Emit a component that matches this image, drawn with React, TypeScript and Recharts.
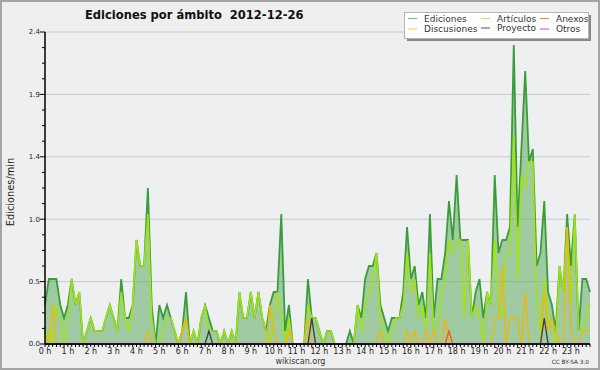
import React from "react";
import { ComposedChart, Area, Line, XAxis, YAxis, CartesianGrid } from "recharts";

// edits per minute, one value per 10-minute slot (144 slots = 24 h)
const EDICIONES = [
  0.3, 0.5, 0.5, 0.5, 0.3, 0.2, 0.3, 0.5, 0.3, 0.4, 0.0, 0.1,
  0.2, 0.1, 0.1, 0.1, 0.2, 0.3, 0.2, 0.1, 0.5, 0.2, 0.2, 0.3,
  0.8, 0.6, 0.6, 1.2, 0.3, 0.0, 0.3, 0.2, 0.3, 0.2, 0.1, 0.0,
  0.1, 0.4, 0.0, 0.1, 0.0, 0.2, 0.3, 0.2, 0.1, 0.1, 0.0, 0.1,
  0.0, 0.1, 0.0, 0.4, 0.2, 0.2, 0.4, 0.2, 0.4, 0.2, 0.1, 0.3,
  0.4, 0.4, 1.0, 0.1, 0.3, 0.0, 0.0, 0.0, 0.0, 0.5, 0.2, 0.2,
  0.1, 0.0, 0.1, 0.1, 0.0, 0.0, 0.0, 0.0, 0.1, 0.0, 0.3, 0.2,
  0.5, 0.6, 0.6, 0.7, 0.3, 0.2, 0.1, 0.2, 0.2, 0.2, 0.4, 0.9,
  0.5, 0.6, 0.3, 0.4, 0.2, 1.0, 0.2, 0.5, 0.5, 0.7, 1.1, 0.8,
  1.3, 0.8, 0.8, 0.8, 0.2, 0.4, 0.5, 0.2, 0.4, 0.3, 1.3, 0.7,
  0.8, 0.8, 0.9, 2.3, 0.9, 1.5, 2.1, 1.4, 1.5, 0.6, 0.7, 1.1,
  0.4, 0.3, 0.1, 0.6, 0.4, 1.0, 0.6, 1.0, 0.1, 0.5, 0.5, 0.4,
];

const ARTICULOS = [
  0.0, 0.1, 0.0, 0.3, 0.2, 0.0, 0.2, 0.5, 0.3, 0.4, 0.0, 0.1,
  0.2, 0.1, 0.1, 0.1, 0.2, 0.3, 0.2, 0.1, 0.4, 0.2, 0.1, 0.3,
  0.8, 0.6, 0.6, 1.0, 0.2, 0.0, 0.0, 0.1, 0.2, 0.2, 0.1, 0.0,
  0.1, 0.2, 0.0, 0.1, 0.0, 0.2, 0.3, 0.1, 0.1, 0.1, 0.0, 0.1,
  0.0, 0.1, 0.0, 0.4, 0.2, 0.2, 0.4, 0.2, 0.4, 0.2, 0.1, 0.0,
  0.2, 0.4, 0.2, 0.0, 0.2, 0.0, 0.0, 0.0, 0.0, 0.3, 0.2, 0.2,
  0.1, 0.0, 0.1, 0.1, 0.0, 0.0, 0.0, 0.0, 0.0, 0.0, 0.3, 0.1,
  0.3, 0.4, 0.5, 0.7, 0.2, 0.1, 0.0, 0.1, 0.2, 0.2, 0.3, 0.7,
  0.4, 0.5, 0.2, 0.3, 0.1, 0.7, 0.1, 0.1, 0.4, 0.5, 0.8, 0.7,
  0.8, 0.8, 0.2, 0.8, 0.2, 0.3, 0.2, 0.0, 0.4, 0.3, 0.8, 0.3,
  0.2, 0.7, 0.7, 1.6, 0.5, 1.3, 1.2, 1.4, 1.4, 0.3, 0.1, 0.5,
  0.2, 0.1, 0.0, 0.6, 0.4, 0.9, 0.3, 1.0, 0.1, 0.1, 0.2, 0.3,
];

const DISCUSIONES = [
  0.1, 0.0, 0.3, 0, 0, 0, 0, 0, 0, 0, 0, 0,
  0, 0, 0, 0, 0, 0, 0, 0, 0, 0, 0, 0,
  0, 0, 0, 0.1, 0, 0, 0, 0, 0, 0, 0, 0,
  0.1, 0.2, 0, 0, 0, 0, 0, 0, 0, 0, 0, 0,
  0, 0, 0, 0, 0, 0, 0, 0, 0, 0, 0, 0.3,
  0.1, 0, 0, 0, 0.1, 0, 0, 0, 0, 0.2, 0, 0,
  0, 0, 0, 0, 0, 0, 0, 0, 0, 0, 0, 0,
  0, 0, 0, 0, 0.1, 0, 0, 0, 0, 0, 0, 0.1,
  0, 0.1, 0, 0, 0.1, 0, 0.1, 0, 0, 0.2, 0, 0,
  0, 0, 0, 0, 0, 0, 0, 0, 0, 0, 0.2, 0.2,
  0.6, 0, 0.2, 0.2, 0.2, 0, 0.4, 0, 0, 0, 0, 0.4,
  0.1, 0.2, 0.1, 0, 0, 0.9, 0.1, 0, 0, 0.1, 0.1, 0.1,
];

const ANEXOS = [
  0, 0, 0, 0, 0, 0, 0, 0, 0, 0, 0, 0,
  0, 0, 0, 0, 0, 0, 0, 0, 0, 0, 0, 0,
  0, 0, 0, 0, 0, 0, 0, 0, 0, 0, 0, 0,
  0, 0, 0, 0, 0, 0, 0, 0, 0, 0, 0, 0,
  0, 0, 0, 0, 0, 0, 0, 0, 0, 0, 0, 0,
  0, 0, 0, 0, 0, 0, 0, 0, 0, 0, 0, 0,
  0, 0, 0, 0, 0, 0, 0, 0, 0, 0, 0, 0,
  0, 0, 0, 0, 0, 0, 0, 0, 0, 0, 0, 0,
  0, 0, 0, 0, 0, 0, 0, 0, 0, 0, 0.1, 0,
  0, 0, 0, 0, 0, 0, 0, 0, 0, 0, 0, 0,
  0, 0, 0, 0, 0, 0, 0, 0, 0, 0, 0, 0,
  0, 0, 0, 0, 0, 0, 0, 0, 0, 0, 0, 0,
];

const PROYECTO = [
  0, 0, 0, 0, 0, 0, 0, 0, 0, 0, 0, 0,
  0, 0, 0, 0, 0, 0, 0, 0, 0, 0, 0, 0,
  0, 0, 0, 0, 0, 0, 0, 0, 0, 0, 0, 0,
  0, 0, 0, 0, 0, 0, 0, 0.1, 0, 0, 0, 0,
  0, 0, 0, 0, 0, 0, 0, 0, 0, 0, 0, 0,
  0, 0, 0, 0, 0, 0, 0, 0, 0, 0, 0.2, 0,
  0, 0, 0, 0, 0, 0, 0, 0, 0, 0, 0, 0,
  0, 0, 0, 0, 0, 0, 0, 0, 0, 0, 0, 0,
  0, 0, 0, 0, 0, 0, 0, 0, 0, 0, 0, 0,
  0, 0, 0, 0, 0, 0, 0, 0, 0, 0, 0, 0,
  0, 0, 0, 0, 0, 0, 0, 0, 0, 0, 0, 0.2,
  0, 0, 0, 0, 0, 0, 0, 0, 0, 0, 0, 0,
];

const OTROS = EDICIONES.map(() => 0);

const HOUR_LABELS = Array.from({ length: 24 }, (_, h) => `${h} h`);
const Y_MAJOR = [0, 0.48, 0.96, 1.44, 1.92, 2.4];
const Y_LABELS = ["0.0", "0.5", "1.0", "1.4", "1.9", "2.4"];

const SERIES = [
  { key: "articulos", name: "Artículos", color: "#a2e21a", width: 1.6 },
  { key: "discusiones", name: "Discusiones", color: "#f2b705", width: 1.3 },
  { key: "anexos", name: "Anexos", color: "#f2571d", width: 1.3 },
  { key: "proyecto", name: "Proyecto", color: "#3d3d3d", width: 1.3 },
  { key: "otros", name: "Otros", color: "#9b30e0", width: 1.3 },
];

const Y_TICKS: number[] = [];
Y_MAJOR.forEach((v, k) => {
  if (k > 0) {
    const p = Y_MAJOR[k - 1];
    for (let s = 1; s < 4; s++) Y_TICKS.push(+(p + ((v - p) * s) / 4).toFixed(3));
  }
  Y_TICKS.push(v);
});
const X_TICKS = EDICIONES.map((_, i) => i);

const data = EDICIONES.map((v, i) => ({
  i,
  ediciones: v,
  articulos: ARTICULOS[i],
  discusiones: DISCUSIONES[i],
  anexos: ANEXOS[i],
  proyecto: PROYECTO[i],
  otros: OTROS[i],
}));

const FONT = "'DejaVu Sans', sans-serif";

function XTick(props: any) {
  const { x, y, payload } = props;
  const v = payload.value;
  return (
    <g>
      <line x1={x} x2={x} y1={y} y2={y + 3} stroke="#000" strokeWidth={1} />
      {v % 6 === 0 && (
        <text x={x} y={y + 9.5} textAnchor="middle" fontSize={8} fontFamily={FONT} fill="#222">
          {HOUR_LABELS[v / 6]}
        </text>
      )}
    </g>
  );
}

function YTick(props: any) {
  const { x, y, payload } = props;
  const idx = Y_MAJOR.indexOf(payload.value);
  const major = idx >= 0;
  return (
    <g>
      <line x1={x - (major ? 5 : 3)} x2={x} y1={y} y2={y} stroke="#000" strokeWidth={1} />
      {major && (
        <text x={x - 5} y={y} dy="0.35em" textAnchor="end" fontSize={7} fontFamily={FONT} fill="#222">
          {Y_LABELS[idx]}
        </text>
      )}
    </g>
  );
}

const LEGEND = [
  { name: "Ediciones", color: "#6cc06c", x: 408, y: 21.5 },
  { name: "Discusiones", color: "#f7cf4a", x: 408, y: 32 },
  { name: "Artículos", color: "#c6ec4a", x: 481, y: 21.5 },
  { name: "Proyecto", color: "#555", x: 481, y: 31 },
  { name: "Anexos", color: "#f7804a", x: 540, y: 21.5 },
  { name: "Otros", color: "#a34ee8", x: 540, y: 32 },
];

export default function App() {
  return (
    <div style={{ position: "absolute", left: 0, top: 0, width: 600, height: 370, background: "#efefef" }}>
      <ComposedChart width={600} height={370} data={data} margin={{ top: 32, right: 10, bottom: 0, left: 0 }}>
        <CartesianGrid vertical={false} horizontalValues={Y_MAJOR} stroke="#c9c9c9" fill="#eeeff1" />
        <Area
          type="linear"
          dataKey="ediciones"
          name="Ediciones"
          stroke="#3a9d3a"
          strokeWidth={1.8}
          fill="#52a552"
          fillOpacity={0.5}
          dot={false}
          activeDot={false}
          isAnimationActive={false}
        />
        {SERIES.map((s) => (
          <Line
            key={s.key}
            type="linear"
            dataKey={s.key}
            name={s.name}
            stroke={s.color}
            strokeWidth={s.width}
            dot={false}
            activeDot={false}
            isAnimationActive={false}
          />
        ))}
        <XAxis
          dataKey="i"
          type="number"
          domain={[0, 143]}
          ticks={X_TICKS}
          interval={0}
          height={26}
          tickSize={0}
          tickMargin={0}
          tickLine={false}
          axisLine={{ stroke: "#000", strokeWidth: 1.5 }}
          tick={(p: any) => <XTick {...p} />}
        />
        <YAxis
          type="number"
          domain={[0, 2.4]}
          ticks={Y_TICKS}
          interval={0}
          width={45}
          tickSize={0}
          tickMargin={0}
          tickLine={false}
          axisLine={{ stroke: "#000", strokeWidth: 1.5 }}
          tick={(p: any) => <YTick {...p} />}
        />
      </ComposedChart>

      <svg width={600} height={370} style={{ position: "absolute", left: 0, top: 0, pointerEvents: "none" }}>
        <rect x={1} y={1} width={598} height={368} fill="none" stroke="#a5a5a5" strokeWidth={2} />
        <text
          x={85}
          y={18.5}
          fontSize={12.8}
          fontWeight="bold"
          fontFamily="'DejaVu Sans Condensed', 'DejaVu Sans', sans-serif"
          fill="#111"
          style={{ whiteSpace: "pre" }}
        >
          {"Ediciones por ámbito  2012-12-26"}
        </text>
        <text
          transform="translate(13.5,192) rotate(-90)"
          textAnchor="middle"
          fontSize={9.8}
          fontFamily={FONT}
          fill="#222"
        >
          Ediciones/min
        </text>
        <text x={300.5} y={363.5} textAnchor="middle" fontSize={8} fontFamily={FONT} fill="#333">
          wikiscan.org
        </text>
        <text x={589} y={364} textAnchor="end" fontSize={5.8} fontFamily={FONT} fill="#333">
          CC BY-SA 3.0
        </text>

        <rect x={407} y={15} width={184} height={26} fill="#8a8a8a" />
        <rect x={404.5} y={12.5} width={184} height={26} fill="#fff" stroke="#b5b5b5" strokeWidth={1} />
        {LEGEND.map((l) => (
          <g key={l.name}>
            <line x1={l.x} x2={l.x + 9} y1={l.y - 3} y2={l.y - 3} stroke={l.color} strokeWidth={1} />
            <text x={l.x + 16} y={l.y} fontSize={9} fontFamily={FONT} fill="#333">
              {l.name}
            </text>
          </g>
        ))}
      </svg>
    </div>
  );
}
